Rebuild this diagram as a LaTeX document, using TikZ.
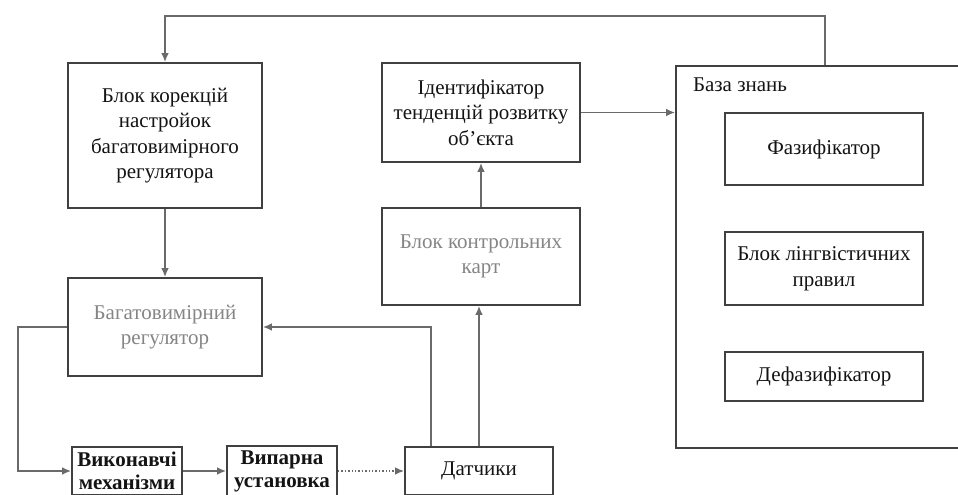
\documentclass[tikz,border=0pt]{standalone}
\usepackage{fontspec}
\setmainfont{Liberation Serif}
\usetikzlibrary{arrows.meta,positioning}
\definecolor{ink}{HTML}{141414}
\definecolor{frame}{HTML}{404040}
\definecolor{wire}{HTML}{6A6A6A}
\definecolor{muted}{HTML}{858585}
\tikzset{
  box/.style={draw=frame,fill=white,line width=1pt,inner sep=2pt,align=center,
              text=ink,font=\fontsize{10.5}{12.8}\selectfont},
  mainbox/.style={box,minimum width=97pt},
  sidebox/.style={box,minimum width=99pt},
  smallbox/.style={box,minimum width=55pt,minimum height=24pt,font=\fontsize{10.5}{11.6}\selectfont\bfseries},
  greybox/.style={text=muted},
  flow/.style={-{Latex[length=4.4pt,width=3.8pt]},line width=0.7pt,draw=wire},
  softflow/.style={flow,densely dotted}
}
\begin{document}
\begin{tikzpicture}[x=0.5pt,y=-0.5pt]
  \useasboundingbox (0,0) rectangle (958,494);
  % left column
  \node[mainbox,minimum height=72.5pt] (corr) at (165,135.5) {Блок корекцій\\настройок\\багатовимірного\\регулятора};
  \node[mainbox,greybox,minimum height=49pt] (reg) at (165,327) {Багатовимірний\\регулятор};
  % middle column
  \node[sidebox,minimum height=49.5pt] (ident) at (481,112.5) {Ідентифікатор\\тенденцій розвитку\\об'єкта};
  \node[sidebox,greybox,minimum height=48.5pt] (cards) at (481,256.5) {Блок контрольних\\карт};
  % bottom row
  \node[smallbox] (act) at (127,471) {Виконавчі\\механізми};
  \node[smallbox] (plant) at (282,471) {Випарна\\установка};
  \node[box,minimum width=74pt,minimum height=24pt] (sens) at (479,471) {Датчики};
  % knowledge base
  \node[draw=frame,line width=1pt,minimum width=157pt,minimum height=191pt] (kb) at (833,257) {};
  \node[box,draw=none,fill=none,anchor=north west,inner sep=0pt] (kbtitle) at (692,77) {База знань};
  \node[sidebox,minimum height=36pt] (fuzz) at (824,149) {Фазифікатор};
  \node[sidebox,minimum height=36.5pt] (rules) at (824,268.5) {Блок лінгвістичних\\правил};
  \node[sidebox,minimum height=24.5pt] (defuzz) at (824,376.5) {Дефазифікатор};

  \coordinate (fbR) at (825,16);
  \coordinate (fbL) at (165,16);
  \coordinate (lp) at (18,327);
  \draw[flow] (fbR |- kb.north) -- (fbR) -- (fbL) -- (corr.north);
  \draw[flow] (corr.south) -- (reg.north);
  \draw[flow] (ident.east) -- (ident.east -| kb.west);
  \draw[flow] (cards.north) -- (ident.south);
  \draw[flow] (sens.north) -- (sens.north |- cards.south);
  \draw[flow] ([xshift=13.5pt]sens.north west) |- (reg.east);
  \draw[flow] (reg.west) -- (lp) |- (act.west);
  \draw[flow] (act) -- (plant);
  \draw[softflow] (plant) -- (sens);
\end{tikzpicture}
\end{document}
